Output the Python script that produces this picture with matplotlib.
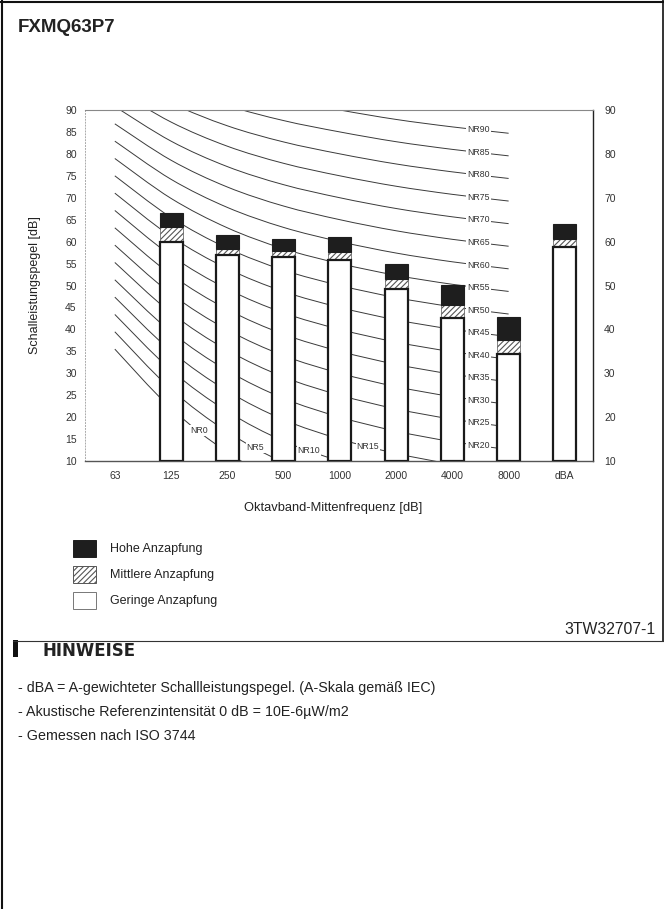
import numpy as np
import matplotlib
matplotlib.use("Agg")
import matplotlib.pyplot as plt
from matplotlib.lines import Line2D
from matplotlib.patches import Rectangle, PathPatch
from matplotlib.path import Path

plt.rcParams['font.family'] = ['Liberation Sans', 'DejaVu Sans']
plt.rcParams['hatch.linewidth'] = 0.8

# Octave band centre frequencies plus overall A-weighted level
categories = ['63', '125', '250', '500', '1000', '2000', '4000', '8000', 'dBA']

# Sound power levels per fan tap [dB]
low_tap = [np.nan, 60.0, 57.0, 56.5, 55.7, 49.2, 42.5, 34.5, 58.8]
mid_tap = [np.nan, 63.3, 58.4, 57.8, 57.7, 51.4, 45.5, 37.6, 60.6]
high_tap = [np.nan, 66.6, 61.6, 60.6, 61.0, 55.0, 50.1, 42.9, 64.0]

# NR rating curve coefficients (L = a + b * NR) for bands 63 .. 8000 Hz
nr_a = [35.5, 22.0, 12.0, 4.8, 0.0, -3.5, -6.1, -8.0]
nr_b = [0.790, 0.870, 0.930, 0.974, 1.000, 1.015, 1.025, 1.030]
nr_values = list(range(0, 95, 5))

left_ticks = list(range(10, 95, 5))
right_ticks = list(range(10, 95, 10))

legend_labels = ['Hohe Anzapfung', 'Mittlere Anzapfung', 'Geringe Anzapfung']

W, H = 664, 909
fig = plt.figure(figsize=(W / 100, H / 100), dpi=100)


def fx(px):
    return px / W


def fy(py):
    return 1 - py / H


def smooth_path(xs, ys):
    """Catmull-Rom spline through the points, expressed as cubic Bezier segments."""
    pts = np.column_stack([xs, ys]).astype(float)
    ext = np.vstack([pts[0], pts, pts[-1]])
    verts = [pts[0]]
    codes = [Path.MOVETO]
    for i in range(1, len(ext) - 2):
        p0, p1, p2, p3 = ext[i - 1], ext[i], ext[i + 1], ext[i + 2]
        c1 = p1 + (p2 - p0) / 6.0
        c2 = p2 - (p3 - p1) / 6.0
        verts += [c1, c2, p2]
        codes += [Path.CURVE4] * 3
    return Path(verts, codes)


ax = fig.add_axes([fx(85), fy(461), fx(593) - fx(85), fy(110) - fy(461)])
x = np.arange(len(categories))
ax.set_xlim(-0.53, 8.5)
ax.set_ylim(10, 90)

# NR curves
band_x = x[:len(nr_a)]
curve_col = '#3a3a3a'
label_pos = {0: 1.5, 5: 2.5, 10: 3.45, 15: 4.5}
for nr in nr_values:
    levels = np.array(nr_a) + np.array(nr_b) * nr
    ax.add_patch(PathPatch(smooth_path(band_x, levels), fill=False,
                           edgecolor=curve_col, lw=0.7, zorder=1))
    lx = label_pos.get(nr, 6.46)
    ly = np.interp(lx, band_x, levels)
    ax.text(lx, ly, f'NR{nr}', fontsize=6.3, color='#333', ha='center', va='center',
            bbox=dict(boxstyle='square,pad=0.12', fc='white', ec='none'), zorder=2)

# Stacked tap bars
bw = 0.41
low = np.array(low_tap)
mid = np.array(mid_tap)
high = np.array(high_tap)
ax.bar(x, mid - low, bottom=low, width=bw, facecolor='white', edgecolor='#555',
       hatch='//////', lw=0.5, zorder=3)
ax.bar(x, high - mid, bottom=mid, width=bw, color='#1e1e1e', edgecolor='#1e1e1e',
       lw=0.8, zorder=3)
ax.bar(x, low - 10, bottom=10, width=bw, facecolor='white', edgecolor='#1a1a1a',
       lw=1.6, zorder=4)

# Axes styling
ax.spines['left'].set_linestyle((0, (1, 2)))
ax.spines['left'].set_color('#aaa')
ax.spines['left'].set_linewidth(0.7)
ax.spines['top'].set_color('#888')
ax.spines['top'].set_linewidth(0.8)
ax.spines['bottom'].set_color('#555')
ax.spines['bottom'].set_linewidth(1.0)
ax.spines['right'].set_color('#222')
ax.spines['right'].set_linewidth(1.0)

ax.set_yticks(left_ticks)
ax.set_yticklabels([str(t) for t in left_ticks])
ax.set_xticks(x)
ax.set_xticklabels(categories)
ax.tick_params(axis='y', length=0, pad=6, labelsize=7.5, labelcolor='#333')
ax.tick_params(axis='x', length=0, pad=7, labelsize=7.5, labelcolor='#333')

ax2 = ax.twinx()
ax2.set_ylim(10, 90)
ax2.set_yticks(right_ticks)
ax2.set_yticklabels([str(t) for t in right_ticks])
ax2.tick_params(axis='y', length=0, pad=8, labelsize=7.5, labelcolor='#333')
for s in ax2.spines.values():
    s.set_visible(False)

fig.text(fx(35), fy(285), 'Schalleistungspegel [dB]', rotation=90, fontsize=9,
         ha='center', va='center', color='#222')
fig.text(fx(333), fy(508), 'Oktavband-Mittenfrequenz [dB]', fontsize=9.3,
         ha='center', va='center', color='#222')

# Title
fig.text(fx(18), fy(27), 'FXMQ63P7', fontsize=13.5, fontweight='bold',
         ha='left', va='center', color='#222')

# Legend
box_specs = [
    dict(facecolor='#1e1e1e', edgecolor='#1e1e1e', hatch=None),
    dict(facecolor='white', edgecolor='#555', hatch='//////'),
    dict(facecolor='white', edgecolor='#777', hatch=None),
]
box_tops = [540, 566, 592]
for spec, top, label in zip(box_specs, box_tops, legend_labels):
    r = Rectangle((fx(73), fy(top + 17)), fx(96) - fx(73), fy(top) - fy(top + 17),
                  transform=fig.transFigure, lw=0.7, **spec)
    fig.add_artist(r)
    fig.text(fx(110), fy(top + 9), label, fontsize=9, ha='left', va='center',
             color='#222')

# Page frame
fig.add_artist(Line2D([fx(1.5), fx(1.5)], [fy(0), fy(909)], transform=fig.transFigure,
                      color='#111', lw=1.5))
fig.add_artist(Line2D([fx(0), fx(664)], [fy(1.5), fy(1.5)], transform=fig.transFigure,
                      color='#111', lw=1.5))
fig.add_artist(Line2D([fx(662.5), fx(662.5)], [fy(0), fy(641)], transform=fig.transFigure,
                      color='#111', lw=1.2))

# Drawing number and notes section
fig.text(fx(655), fy(630), '3TW32707-1', fontsize=11.3, ha='right', va='center',
         color='#222')
fig.add_artist(Line2D([fx(13), fx(664)], [fy(640.5), fy(640.5)], transform=fig.transFigure,
                      color='#333', lw=0.8))
fig.add_artist(Rectangle((fx(13), fy(657)), fx(18) - fx(13), fy(640) - fy(657),
                         transform=fig.transFigure, facecolor='#111', edgecolor='none'))
fig.text(fx(43), fy(651), 'HINWEISE', fontsize=12, fontweight='bold',
         family=['DejaVu Sans'], ha='left', va='center', color='#222')

notes = [
    '- dBA = A-gewichteter Schallleistungspegel. (A-Skala gemäß IEC)',
    '- Akustische Referenzintensität 0 dB = 10E-6µW/m2',
    '- Gemessen nach ISO 3744',
]
for i, note in enumerate(notes):
    fig.text(fx(18), fy(688 + 24 * i), note, fontsize=10.3, ha='left', va='center',
             color='#222')

fig.savefig('out.png', dpi=100)
